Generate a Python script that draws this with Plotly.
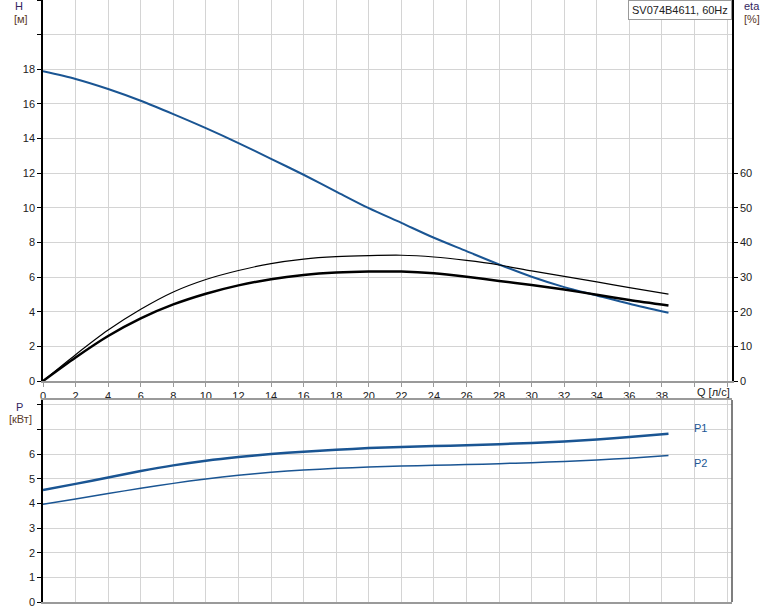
import plotly.graph_objects as go

# ---- data ----
q_h = [0, 2, 4, 6, 8, 10, 12, 14, 16, 18, 20, 22, 24, 26, 28, 30, 32, 34, 36, 38.4]
head = [17.88, 17.44, 16.86, 16.18, 15.41, 14.6, 13.74, 12.83, 11.91, 10.94, 9.98,
        9.13, 8.27, 7.5, 6.73, 6.02, 5.42, 4.94, 4.46, 3.94]

q_eta = [0, 2, 4, 6, 8, 10, 12, 14, 16, 18, 20, 22, 24, 26, 28, 30, 32, 34, 36, 38.4]
eta_pump = [0, 7.6, 14.7, 20.7, 25.7, 29.3, 31.9, 33.9, 35.2, 35.9, 36.2,
            36.3, 35.8, 34.8, 33.5, 31.8, 30.2, 28.6, 26.95, 25.1]
eta_total = [0, 6.8, 13.0, 18.1, 22.1, 25.2, 27.6, 29.4, 30.6, 31.3, 31.6,
             31.6, 31.1, 30.1, 28.9, 27.7, 26.4, 24.9, 23.4, 21.8]

q_p = [0, 2, 4, 6, 8, 10, 12, 14, 16, 18, 20, 22, 24, 26, 28, 30, 32, 34, 36, 38.4]
p1 = [4.54, 4.79, 5.05, 5.31, 5.54, 5.73, 5.88, 6.0, 6.09, 6.17, 6.24,
      6.28, 6.32, 6.36, 6.40, 6.45, 6.51, 6.59, 6.69, 6.82]
p2 = [3.96, 4.18, 4.40, 4.61, 4.81, 4.99, 5.14, 5.26, 5.35, 5.42, 5.47,
      5.51, 5.54, 5.57, 5.61, 5.65, 5.70, 5.76, 5.83, 5.94]

x_ticks = list(range(0, 43, 2))
x_labels = [str(v) for v in range(0, 39, 2)] + ["", ""]
h_ticks = list(range(0, 23, 2))
h_labels = [str(v) for v in range(0, 19, 2)] + ["", ""]
eta_ticks = list(range(0, 61, 10))
p_ticks = list(range(0, 9))
p_labels = [str(v) for v in range(0, 7)] + ["", ""]

title_text = "SV074B4611, 60Hz"

BLUE = "#1a5593"
GRID = "#d4d4d4"
TXT = "#222222"
FONT = "Liberation Sans, Arial, sans-serif"

fig = go.Figure()
fig.add_trace(go.Scatter(x=q_h, y=head, mode="lines", line=dict(color=BLUE, width=2, shape="spline", smoothing=0.8),
                         xaxis="x", yaxis="y", showlegend=False, hoverinfo="skip"))
fig.add_trace(go.Scatter(x=q_eta, y=eta_pump, mode="lines", line=dict(color="black", width=1.2, shape="spline", smoothing=0.8),
                         xaxis="x", yaxis="y2", showlegend=False, hoverinfo="skip"))
fig.add_trace(go.Scatter(x=q_eta, y=eta_total, mode="lines", line=dict(color="black", width=2.5, shape="spline", smoothing=0.8),
                         xaxis="x", yaxis="y2", showlegend=False, hoverinfo="skip"))
fig.add_trace(go.Scatter(x=q_p, y=p1, mode="lines", line=dict(color=BLUE, width=2.5, shape="spline", smoothing=0.8),
                         xaxis="x2", yaxis="y3", showlegend=False, hoverinfo="skip"))
fig.add_trace(go.Scatter(x=q_p, y=p2, mode="lines", line=dict(color=BLUE, width=1.5, shape="spline", smoothing=0.8),
                         xaxis="x2", yaxis="y3", showlegend=False, hoverinfo="skip"))

xr = [0, 42.3]
top_dom = [(602 - 381) / 602, 1]
bot_dom = [0, (602 - 400) / 602]

fig.update_layout(
    width=774, height=611,
    margin=dict(l=43, r=42, t=0, b=9),
    paper_bgcolor="white", plot_bgcolor="white",
    font=dict(family=FONT, size=11, color=TXT),
    xaxis=dict(domain=[0, 1], range=xr, anchor="y", tickvals=x_ticks, ticktext=x_labels,
               showgrid=True, gridcolor=GRID, gridwidth=1, zeroline=False,
               showline=True, linecolor="#9a9a9a", linewidth=2,
               ticks="outside", ticklen=4, tickcolor="#9a9a9a", tickfont=dict(size=11, color=TXT)),
    yaxis=dict(domain=top_dom, range=[0, 22], anchor="x", tickvals=h_ticks, ticktext=h_labels,
               showgrid=True, gridcolor=GRID, gridwidth=1, zeroline=False,
               showline=True, linecolor="black", linewidth=1.5,
               ticks="outside", ticklen=4, tickcolor="black", tickfont=dict(size=11, color=TXT)),
    yaxis2=dict(overlaying="y", side="right", range=[0, 110], anchor="x", tickvals=eta_ticks,
                showgrid=False, zeroline=False, showline=True, linecolor="black", linewidth=1.5,
                ticks="outside", ticklen=4, tickcolor="black", tickfont=dict(size=11, color=TXT)),
    xaxis2=dict(domain=[0, 1], range=xr, anchor="y3", tickvals=x_ticks, showticklabels=False,
                showgrid=True, gridcolor=GRID, gridwidth=1, zeroline=False,
                showline=True, linecolor="#9a9a9a", linewidth=2, mirror=True, ticks=""),
    yaxis3=dict(domain=bot_dom, range=[0, 8.19], anchor="x2", tickvals=p_ticks, ticktext=p_labels,
                showgrid=True, gridcolor=GRID, gridwidth=1, zeroline=False,
                showline=True, linecolor="black", linewidth=1.5,
                ticks="outside", ticklen=4, tickcolor="black", tickfont=dict(size=11, color=TXT)),
)

# right border of lower panel
fig.add_shape(type="line", xref="paper", yref="paper", x0=1, x1=1, y0=bot_dom[0], y1=bot_dom[1],
              line=dict(color="#555555", width=1.5))

def px_ann(text, x, y, color=TXT, xanchor="center", size=11):
    fig.add_annotation(text=text, xref="paper", yref="paper",
                       x=(x - 43) / 689, y=(602 - y) / 602, showarrow=False,
                       xanchor=xanchor, yanchor="middle", font=dict(size=size, color=color))

px_ann("H", 19, 6, color="#33265e")
px_ann("[м]", 21, 19, color="#5a3a2a")
px_ann("eta", 752, 6, color="#33265e")
px_ann("[%]", 752, 19, color="#5a3a2a")
px_ann("P", 19, 407, color="#33265e")
px_ann("[кВт]", 20, 419, color="#5a3a2a")
px_ann("Q [л/с]", 713, 392)
px_ann("P1", 700, 428, color=BLUE)
px_ann("P2", 700, 463, color=BLUE)

fig.add_annotation(text=title_text, xref="paper", yref="paper", x=1, y=1,
                   xanchor="right", yanchor="top", showarrow=False,
                   font=dict(size=11, color=TXT), bgcolor="white",
                   bordercolor="#9a9a9a", borderwidth=1, borderpad=3)

fig.write_html("out.html", config={"displayModeBar": False},
               post_script="document.body.style.margin='0';document.body.style.padding='0';")
